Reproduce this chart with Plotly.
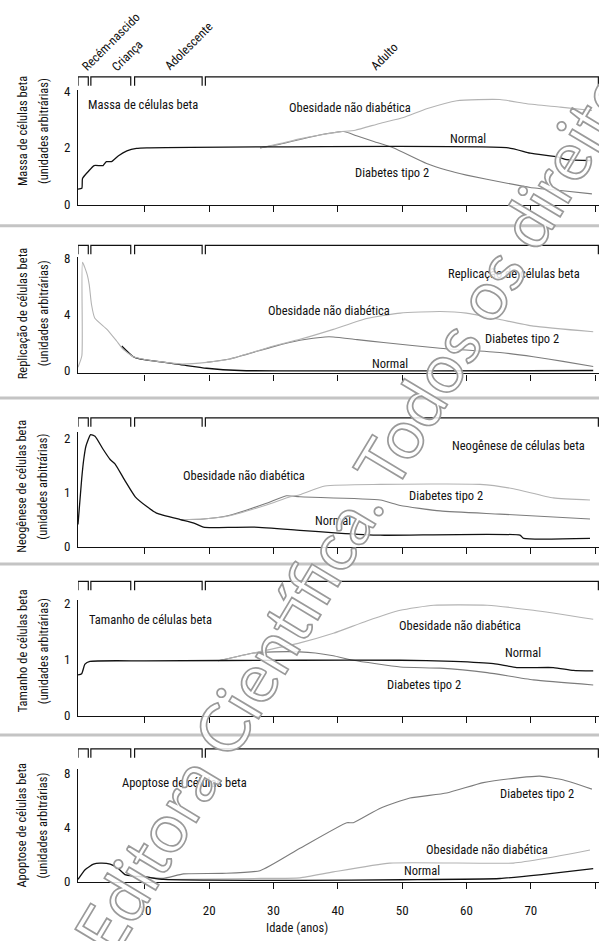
import plotly.graph_objects as go

# ---------------- data ----------------
stage_names = ["Recém-nascido", "Criança", "Adolescente", "Adulto"]
stage_start = [-0.4, 1.6, 8.4, 19.4]
stage_end = [1.2, 7.8, 18.9, 80.5]

x_ticks = [10, 20, 30, 40, 50, 60, 70, 80]

# Panel 1 - Massa de células beta
massa_normal_x = [-0.4, 0.2, 0.3, 1.2, 2.1, 3.5, 4.0, 4.8, 5.9, 7.2, 8.7, 10.3, 66.5, 69.9, 74.3, 75.6, 79.5]
massa_normal_y = [0.53, 0.56, 0.91, 1.16, 1.37, 1.37, 1.51, 1.51, 1.72, 1.89, 1.98, 2.0, 2.0, 1.81, 1.67, 1.58, 1.55]
massa_obes_x = [27.9, 31, 34.1, 37, 40.3, 42.7, 46.5, 50.2, 53.8, 58.5, 65.2, 69.4, 74.6, 79.5]
massa_obes_y = [2.0, 2.15, 2.32, 2.45, 2.57, 2.63, 2.87, 3.08, 3.39, 3.68, 3.72, 3.57, 3.45, 3.33]
massa_diab_x = [27.9, 31, 34.1, 37, 40.9, 42.9, 45.7, 48.6, 53.8, 57, 60, 66.3, 69.9, 74.6, 79.5]
massa_diab_y = [2.0, 2.13, 2.3, 2.45, 2.58, 2.43, 2.22, 2.0, 1.44, 1.2, 1.03, 0.74, 0.59, 0.48, 0.36]

# Panel 2 - Replicação de células beta
repl_normal_x = [6.4, 8.2, 9.2, 15.5, 19.6, 24.8, 79.7]
repl_normal_y = [1.75, 0.98, 0.82, 0.42, 0.16, 0.0, 0.0]
repl_obes_x = [-0.4, 0.2, 0.3, 1.05, 1.35, 1.7, 2.2, 4.1, 5.6, 6.6, 8.2, 9.2, 12, 15.5, 19.6, 23.2, 30, 34.1,
               39.3, 44.5, 49.7, 55.9, 60, 65.2, 70.4, 79.7]
repl_obes_y = [0.23, 1.05, 7.7, 6.8, 6.1, 4.7, 3.74, 2.93, 2.1, 1.52, 0.98, 0.86, 0.65, 0.47, 0.58, 0.82, 1.75, 2.22,
               2.93, 3.7, 4.09, 4.2, 4.09, 3.63, 3.16, 2.76]
repl_diab_x = [19.6, 23.2, 30, 34.1, 38, 39.3, 43, 47.1, 55.9, 65.2, 70.4, 75, 79.7]
repl_diab_y = [0.58, 0.82, 1.7, 2.15, 2.39, 2.39, 2.2, 1.99, 1.59, 1.28, 0.98, 0.65, 0.28]

# Panel 3 - Neogênese de células beta
neo_normal_x = [-0.4, 0.17, 0.5, 0.84, 1.57, 2.24, 3.5, 4.6, 5.35, 6.9, 8.5, 10.3, 11.8, 15.5, 17.5, 19.1, 20.6,
                26.9, 34.1, 40, 46.6, 68.3, 68.9, 79.2]
neo_normal_y = [0.41, 1.25, 1.62, 1.86, 2.07, 2.04, 1.8, 1.61, 1.53, 1.22, 0.92, 0.74, 0.62, 0.5, 0.44, 0.36, 0.35,
                0.36, 0.3, 0.25, 0.21, 0.21, 0.15, 0.15]
neo_obes_x = [15.5, 19.1, 23.2, 28.9, 32.6, 34.1, 38, 46.6, 62.1, 67.3, 73.5, 79.2]
neo_obes_y = [0.5, 0.51, 0.57, 0.77, 0.92, 0.96, 1.12, 1.15, 1.15, 1.07, 0.9, 0.86]
neo_diab_x = [15.5, 19.1, 23.2, 28.9, 32, 34.1, 46.6, 49.7, 55.9, 65.2, 79.2]
neo_diab_y = [0.5, 0.51, 0.58, 0.8, 0.94, 0.92, 0.86, 0.76, 0.66, 0.6, 0.51]

# Panel 4 - Tamanho de células beta
tam_normal_x = [-0.4, 0.17, 0.68, 1.46, 10, 34.1, 49.7, 58, 64.2, 67.8, 73.5, 76.6, 79.7]
tam_normal_y = [0.72, 0.74, 0.91, 0.96, 0.97, 0.98, 0.98, 0.96, 0.92, 0.85, 0.85, 0.8, 0.79]
tam_obes_x = [21.4, 26.9, 34.1, 39.3, 44.5, 49.7, 54.9, 63.2, 70.4, 79.7]
tam_obes_y = [0.97, 1.11, 1.29, 1.46, 1.68, 1.87, 1.96, 1.96, 1.87, 1.71]
tam_diab_x = [21.4, 26.9, 30, 34.1, 36.5, 39.3, 42.4, 49.7, 55.9, 63.2, 70.4, 79.7]
tam_diab_y = [0.97, 1.11, 1.13, 1.13, 1.11, 1.06, 0.98, 0.86, 0.84, 0.76, 0.63, 0.54]

# Panel 5 - Apoptose de células beta
apo_normal_x = [-0.4, 0.7, 2.0, 3.0, 4.6, 5.8, 6.9, 8.2, 10, 12.9, 20, 34.1, 50, 65.2, 72, 79.7]
apo_normal_y = [0.17, 0.89, 1.3, 1.38, 1.31, 1.0, 0.53, 0.42, 0.36, 0.17, 0.12, 0.1, 0.15, 0.24, 0.55, 0.97]
apo_obes_x = [12.9, 20, 28, 34.1, 39.3, 48.1, 67.3, 72.5, 79.2]
apo_obes_y = [0.17, 0.2, 0.25, 0.29, 0.73, 1.38, 1.38, 1.75, 2.35]
apo_diab_x = [10, 12.9, 16, 22, 27.9, 34.1, 41.4, 42.4, 46.6, 51.2, 56.9, 62.6, 68.3, 71.4, 75.1, 79.5]
apo_diab_y = [0.36, 0.25, 0.58, 0.62, 0.82, 2.47, 4.36, 4.36, 5.43, 6.18, 6.55, 7.32, 7.69, 7.8, 7.51, 6.84]

panel_titles = ["Massa de células beta", "Replicação de células beta", "Neogênese de células beta",
                "Tamanho de células beta", "Apoptose de células beta"]
unit_label = "(unidades arbitrárias)"
y_tickvals = [[0, 2, 4], [0, 4, 8], [0, 1, 2], [0, 1, 2], [0, 4, 8]]
x_title = "Idade (anos)"
lbl_obes = "Obesidade não diabética"
lbl_diab = "Diabetes tipo 2"
lbl_norm = "Normal"
watermark = "Editora Científica. Todos os direitos"

# ---------------- layout helpers ----------------
W, H = 599, 941
L = 78
PW = W - L
FONT = "Liberation Sans Narrow, Roboto Condensed, Roboto, sans-serif"
FS = 12.5


def px_x(p):
    return (p - L) / PW


def px_y(p):
    return 1 - p / H


# panel geometry (pixels): axis top, axis bottom, and y-range
panel_dom = [(85, 202), (255, 373), (432, 549), (603, 721), (775, 889)]
panel_rng = [(-0.035, 4.07), (-0.21, 8.07), (-0.005, 2.127), (-0.0175, 2.053), (0, 8.29)]
bracket_top = [72, 243, 418, 584, 754]
bracket_h = 9
title_center = [127, 312, 488, 655, 832]
separators = [223, 398, 566.5, 740]

C_NORM = "#111111"
C_OBES = "#b3b3b3"
C_DIAB = "#7c7c7c"

series = [
    (massa_normal_x, massa_normal_y, massa_obes_x, massa_obes_y, massa_diab_x, massa_diab_y),
    (repl_normal_x, repl_normal_y, repl_obes_x, repl_obes_y, repl_diab_x, repl_diab_y),
    (neo_normal_x, neo_normal_y, neo_obes_x, neo_obes_y, neo_diab_x, neo_diab_y),
    (tam_normal_x, tam_normal_y, tam_obes_x, tam_obes_y, tam_diab_x, tam_diab_y),
    (apo_normal_x, apo_normal_y, apo_obes_x, apo_obes_y, apo_diab_x, apo_diab_y),
]

fig = go.Figure()
layout = dict(
    width=W, height=H,
    margin=dict(l=L, r=0, t=0, b=0),
    paper_bgcolor="white", plot_bgcolor="rgba(0,0,0,0)",
    showlegend=False,
    font=dict(family=FONT, size=FS, color="#111"),
)
shapes = []
annotations = []

for i, (nx, ny, ox, oy, dx, dy) in enumerate(series):
    k = i + 1
    xa = "x" if k == 1 else f"x{k}"
    ya = "y" if k == 1 else f"y{k}"
    if i == 1:
        order = [(nx, ny, C_NORM, 1.3), (dx, dy, C_DIAB, 1.1), (ox, oy, C_OBES, 1.1)]
    else:
        order = [(dx, dy, C_DIAB, 1.1), (ox, oy, C_OBES, 1.1), (nx, ny, C_NORM, 1.3)]
    for xs, ys, col, w in order:
        fig.add_trace(go.Scatter(x=xs, y=ys, mode="lines", xaxis=xa, yaxis=ya,
                                 line=dict(color=col, width=w, shape="spline", smoothing=0.5),
                                 hoverinfo="skip"))
    top, bot = panel_dom[i]
    layout["xaxis" if k == 1 else f"xaxis{k}"] = dict(
        domain=[0, 1], anchor=ya, range=[-0.4, 80.6],
        showgrid=False, zeroline=False, showline=True, linecolor="#111", linewidth=1.2,
        tickvals=x_ticks, ticks="outside", ticklen=6, tickwidth=1.2, tickcolor="#111",
        showticklabels=(i == 4), ticklabelstandoff=11, tickfont=dict(size=13, family=FONT),
    )
    layout["yaxis" if k == 1 else f"yaxis{k}"] = dict(
        domain=[px_y(bot), px_y(top)], anchor=xa, range=list(panel_rng[i]),
        showgrid=False, zeroline=False, showline=True, linecolor="#111", linewidth=1.2,
        tickvals=y_tickvals[i], ticks="", ticklabelstandoff=4,
        tickfont=dict(size=13, family=FONT),
    )
    # age-stage brackets
    yt = px_y(bracket_top[i])
    yb = px_y(bracket_top[i] + bracket_h)
    for s0, s1 in zip(stage_start, stage_end):
        shapes.append(dict(type="path", xref=xa, yref="paper",
                           path=f"M {s0},{yb} L {s0},{yt} L {s1},{yt} L {s1},{yb}",
                           line=dict(color="#111", width=1.2)))
    # y titles
    for txt, tx in ((panel_titles[i], 22), (unit_label, 43)):
        annotations.append(dict(text=txt, xref="paper", yref="paper",
                                x=px_x(tx), y=px_y(title_center[i]), textangle=-90,
                                showarrow=False, xanchor="center", yanchor="middle",
                                font=dict(size=FS, family=FONT)))

# in-panel labels (left x px, centre y px)
labels = [
    (panel_titles[0], 86, 100), (lbl_obes, 287, 103), (lbl_norm, 448, 134), (lbl_diab, 353, 169),
    (panel_titles[1], 446, 272), (lbl_obes, 266, 309), (lbl_diab, 483, 338), (lbl_norm, 370, 363),
    (panel_titles[2], 450, 446), (lbl_obes, 181, 477), (lbl_diab, 407, 497), (lbl_norm, 313, 522),
    (panel_titles[3], 87, 623), (lbl_obes, 397, 629), (lbl_norm, 503, 656), (lbl_diab, 385, 689),
    (panel_titles[4], 120, 788), (lbl_diab, 498, 799), (lbl_obes, 424, 856), (lbl_norm, 402, 878),
]
for t, lx, ly in labels:
    annotations.append(dict(text=t, xref="paper", yref="paper", x=px_x(lx), y=px_y(ly),
                            xanchor="left", yanchor="middle", showarrow=False,
                            font=dict(size=FS, family=FONT)))

# stage names, rotated
stage_centers = [(111, 36), (127, 50), (188, 41), (384, 51)]
for name, (cx, cy) in zip(stage_names, stage_centers):
    annotations.append(dict(text=name, xref="paper", yref="paper", x=px_x(cx), y=px_y(cy),
                            xanchor="center", yanchor="middle", textangle=-45, showarrow=False,
                            font=dict(size=12.5, family=FONT)))

# x title
annotations.append(dict(text=x_title, xref="paper", yref="paper", x=px_x(297), y=px_y(935),
                        xanchor="center", yanchor="middle", showarrow=False,
                        font=dict(size=FS, family=FONT)))

# separators
for sy in separators:
    shapes.append(dict(type="line", xref="paper", yref="paper", x0=px_x(0), x1=px_x(W),
                       y0=px_y(sy), y1=px_y(sy), line=dict(color="#c4c4c4", width=3)))

# watermark
annotations.append(dict(
    text=f'<span style="fill:rgba(255,255,255,0.85);stroke:#9a9a9a;stroke-width:1.7px">{watermark}</span>',
    xref="paper", yref="paper", x=px_x(360), y=px_y(500), xanchor="center", yanchor="middle",
    textangle=-59, showarrow=False, font=dict(size=68, family="Lato, Open Sans, sans-serif")))

layout["shapes"] = shapes
layout["annotations"] = annotations
fig.update_layout(**layout)
fig.write_html("out.html")
